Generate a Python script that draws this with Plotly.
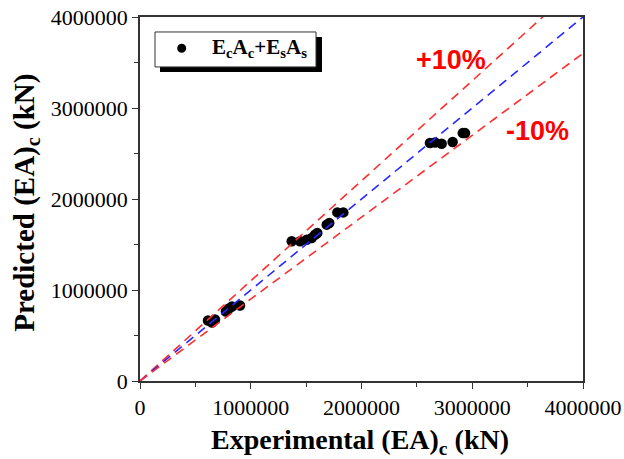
import plotly.graph_objects as go

# Data
experimental = [614000, 650000, 677000, 776000, 803000, 830000, 903000,
                1370000, 1445000, 1505000, 1550000, 1580000, 1601000,
                1686000, 1709000, 1782000, 1836000,
                2618000, 2664000, 2724000, 2823000, 2914000, 2935000]
predicted = [664000, 642000, 675000, 763000, 796000, 818000, 829000,
             1535000, 1535000, 1553000, 1572000, 1608000, 1627000,
             1718000, 1737000, 1853000, 1853000,
             2615000, 2621000, 2607000, 2626000, 2724000, 2724000]

line_x = [0, 4000000]
factors = {"+10%": 1.1, "equal": 1.0, "-10%": 0.9}
axis_range = [0, 4000000]
major_step = 1000000
minor_step = 500000

serif = "Liberation Serif"
sans = "Liberation Sans"

fig = go.Figure()
fig.add_trace(go.Scatter(x=experimental, y=predicted, mode="markers",
                         marker=dict(color="black", size=10.5),
                         showlegend=False, cliponaxis=False))
for name, f in factors.items():
    color = "rgb(40,40,255)" if name == "equal" else "rgb(255,45,45)"
    fig.add_trace(go.Scatter(x=line_x, y=[v * f for v in line_x], mode="lines",
                             line=dict(color=color, width=1.6, dash="9px,6px"),
                             showlegend=False, hoverinfo="skip"))

fig.update_layout(
    width=624, height=459,
    margin=dict(l=140, r=41, t=17, b=77.5, autoexpand=False),
    plot_bgcolor="white", paper_bgcolor="white",
    font=dict(family=serif, size=22, color="black"),
)
fig.update_xaxes(range=axis_range, tickmode="linear", tick0=0, dtick=major_step,
                 tickformat="d", separatethousands=False,
                 ticks="outside", ticklen=6, tickwidth=1.2, tickcolor="#333",
                 showline=True, linecolor="#333", linewidth=1.5, mirror=True,
                 showgrid=False, zeroline=False, automargin=False,
                 tickfont_family=serif, tickfont_size=22, tickfont_color="black",
                 minor=dict(ticks="outside", ticklen=4, tickwidth=1.2,
                            tickcolor="#333", dtick=minor_step, tick0=0, showgrid=False))
fig.update_yaxes(range=axis_range, tickmode="linear", tick0=0, dtick=major_step,
                 tickformat="d", separatethousands=False,
                 ticks="outside", ticklen=6, tickwidth=1.2, tickcolor="#333",
                 showline=True, linecolor="#333", linewidth=1.5, mirror=True,
                 showgrid=False, zeroline=False, automargin=False,
                 tickfont_family=serif, tickfont_size=22, tickfont_color="black",
                 minor=dict(ticks="outside", ticklen=4, tickwidth=1.2,
                            tickcolor="#333", dtick=minor_step, tick0=0, showgrid=False))

W, H = 443.0, 364.5
def px(x):
    return (x - 140) / W
def py(y):
    return (381.5 - y) / H

# legend box with shadow
fig.add_shape(type="rect", xref="paper", yref="paper",
              x0=px(160), x1=px(322), y0=py(72), y1=py(37),
              fillcolor="black", line=dict(width=0), layer="above")
fig.add_shape(type="rect", xref="paper", yref="paper",
              x0=px(155), x1=px(316), y0=py(67), y1=py(32),
              fillcolor="white", line=dict(color="#333", width=1), layer="above")
fig.add_shape(type="circle", xref="paper", yref="paper",
              x0=px(177.2), x1=px(186.2), y0=py(52.8), y1=py(43.8),
              fillcolor="black", line=dict(width=0), layer="above")
fig.add_annotation(xref="paper", yref="paper", x=px(210), y=py(48),
                   xanchor="left", yanchor="middle", showarrow=False,
                   text="<b>E<sub>c</sub>A<sub>c</sub>+E<sub>s</sub>A<sub>s</sub></b>",
                   font=dict(family=serif, size=21, color="black"))

fig.add_annotation(xref="paper", yref="paper", x=px(451), y=py(60),
                   xanchor="center", yanchor="middle", showarrow=False,
                   text="<b>+10%</b>", font=dict(family=sans, size=27, color="rgb(255,0,0)"))
fig.add_annotation(xref="paper", yref="paper", x=px(537), y=py(131),
                   xanchor="center", yanchor="middle", showarrow=False,
                   text="<b>-10%</b>", font=dict(family=sans, size=27, color="rgb(255,0,0)"))

fig.add_annotation(xref="paper", yref="paper", x=px(360), y=py(442),
                   xanchor="center", yanchor="middle", showarrow=False,
                   text="<b>Experimental (EA)<sub>c</sub> (kN)</b>",
                   font=dict(family=serif, size=28, color="black"))
fig.add_annotation(xref="paper", yref="paper", x=px(26), y=py(203),
                   xanchor="center", yanchor="middle", showarrow=False, textangle=-90,
                   text="<b>Predicted (EA)<sub>c</sub> (kN)</b>",
                   font=dict(family=serif, size=29, color="black"))

fig.write_html("out.html")
